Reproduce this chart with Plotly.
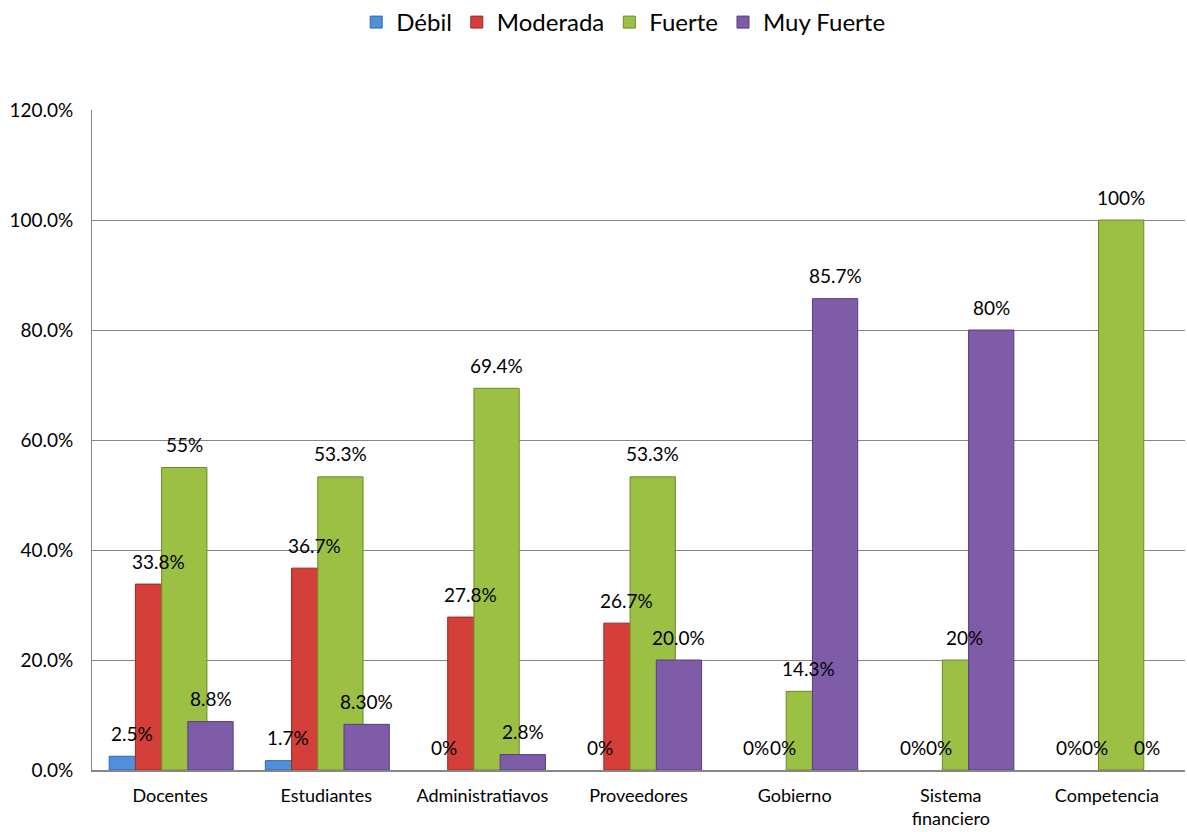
import plotly.graph_objects as go

categories = ["Docentes", "Estudiantes", "Administratiavos", "Proveedores",
              "Gobierno", "Sistema<br>financiero", "Competencia"]
series_names = ["Débil", "Moderada", "Fuerte", "Muy Fuerte"]

debil = [0.025, 0.017, 0.0, 0.0, 0.0, 0.0, 0.0]
moderada = [0.338, 0.367, 0.278, 0.267, 0.0, 0.0, 0.0]
fuerte = [0.55, 0.533, 0.694, 0.533, 0.143, 0.20, 1.00]
muy_fuerte = [0.088, 0.083, 0.028, 0.20, 0.857, 0.80, 0.0]

debil_labels = ["2.5%", "1.7%", "0%", "0%", "0%", "0%", "0%"]
moderada_labels = ["33.8%", "36.7%", "27.8%", "26.7%", "0%", "0%", "0%"]
fuerte_labels = ["55%", "53.3%", "69.4%", "53.3%", "14.3%", "20%", "100%"]
muy_fuerte_labels = ["8.8%", "8.30%", "2.8%", "20.0%", "85.7%", "80%", "0%"]

values = [debil, moderada, fuerte, muy_fuerte]
labels = [debil_labels, moderada_labels, fuerte_labels, muy_fuerte_labels]

colors = ["#4F8FDB", "#D43F3A", "#9BC043", "#7F5CA8"]
edges = ["#2F6AAE", "#9A2926", "#6C8A2A", "#573C80"]
bar_width = 0.29
offsets = [-0.39, -0.222, -0.054, 0.114]

font_family = "Lato, 'Open Sans', sans-serif"

fig = go.Figure()
annotations = []
for i, name in enumerate(series_names):
    fig.add_trace(go.Bar(
        x=categories, y=values[i], name=name,
        marker=dict(color=colors[i],
                    line=dict(color=edges[i],
                              width=[1 if v > 0 else 0 for v in values[i]])),
        width=bar_width, offset=offsets[i],
    ))
    center = offsets[i] + bar_width / 2
    for j, (v, t) in enumerate(zip(values[i], labels[i])):
        annotations.append(dict(
            x=j + center, y=v, xref="x", yref="y", text=t, showarrow=False,
            yanchor="middle", xanchor="center", yshift=23,
            font=dict(size=19, color="#000000", family=font_family),
        ))

fig.update_layout(
    width=1187, height=832,
    barmode="overlay",
    paper_bgcolor="white", plot_bgcolor="white",
    margin=dict(l=92, r=2, t=110, b=62),
    font=dict(family=font_family, size=19, color="#000000"),
    legend=dict(orientation="h", x=0.486, xanchor="center", y=1.0, yanchor="top",
                yref="container", font=dict(size=24), traceorder="normal",
                itemwidth=30),
    annotations=annotations,
    showlegend=True,
)
fig.update_xaxes(
    showline=True, linecolor="#868686", linewidth=2, showgrid=False,
    ticks="", ticklabelstandoff=8, tickfont=dict(size=18), automargin=False,
)
fig.update_yaxes(
    range=[0, 1.2], dtick=0.2, tickformat=".1%",
    showline=True, linecolor="#868686", linewidth=1,
    showgrid=True, gridcolor="#868686", gridwidth=1,
    ticks="", ticklabelstandoff=14, tickfont=dict(size=19),
    zeroline=False, automargin=False,
)

fig.write_html("out.html")
